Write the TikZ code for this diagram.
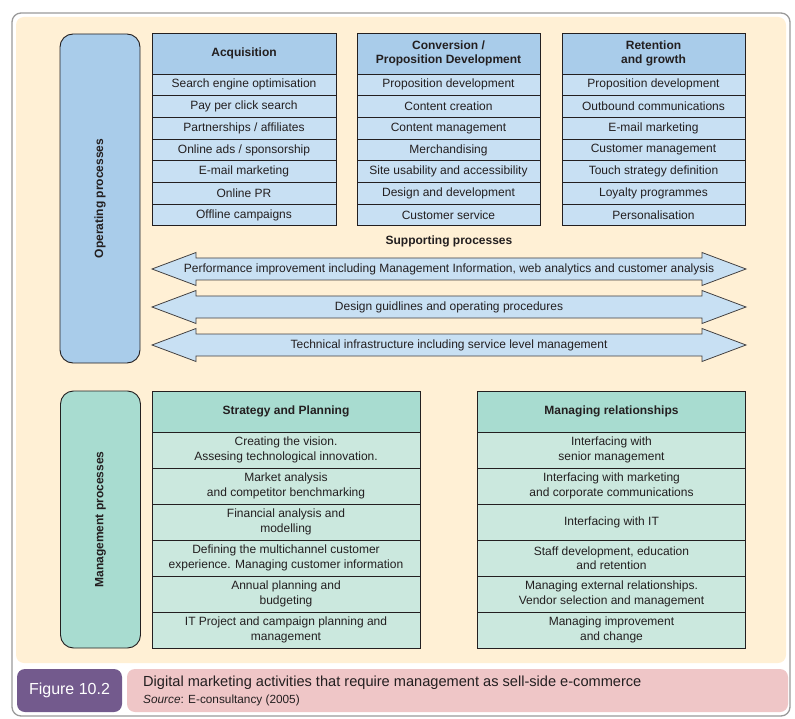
\documentclass[tikz,border=0pt]{standalone}
\usepackage{fontspec}
\setmainfont{Liberation Sans}
\definecolor{cream}{HTML}{FFF0D5}
\definecolor{blueHead}{HTML}{A9CCEA}
\definecolor{blueRow}{HTML}{C8E0F3}
\definecolor{greenHead}{HTML}{A8DCD0}
\definecolor{greenRow}{HTML}{CBE8DE}
\definecolor{pinkC}{HTML}{EFC6C7}
\definecolor{purpleC}{HTML}{735A8D}
\definecolor{txt}{HTML}{231F20}
\definecolor{edge}{HTML}{231F20}
\definecolor{frame}{HTML}{9A9A9A}
\begin{document}
\begin{tikzpicture}[x=1pt,y=-1pt,
  every node/.style={font=\fontsize{12}{14.5}\selectfont, text=txt},
  cellbase/.style={draw=edge, line width=0.9pt, inner sep=0pt, outer sep=0pt, align=center},
  bluerow/.style={cellbase, fill=blueRow, minimum width=183pt, minimum height=21.7pt},
  bluehead/.style={cellbase, fill=blueHead, minimum width=183pt, minimum height=41pt, font=\bfseries\fontsize{12}{13.5}\selectfont},
  greenrow/.style={cellbase, fill=greenRow, minimum width=268pt, minimum height=36pt},
  greenhead/.style={cellbase, fill=greenHead, minimum width=268pt, minimum height=41pt, font=\bfseries\fontsize{12}{13.5}\selectfont},
  sidebox/.style={draw=edge, line width=0.9pt, rounded corners=13pt, minimum width=80pt, inner sep=0pt},
  sidelabel/.style={rotate=90, font=\bfseries\fontsize{12}{13.5}\selectfont},
  arrowshape/.style={draw=edge!85, line width=0.8pt, fill=blueRow}
]
\useasboundingbox (0,0) rectangle (795,719);
% outer frame and background
\draw[frame, line width=1.3pt, fill=white, rounded corners=9pt] (12,13) rectangle (790,716);
\fill[cream, rounded corners=8pt] (16,17) rectangle (786,663);

% side boxes
\node[sidebox, fill=blueHead, minimum height=329pt] (op) at (100,198.5) {};
\node[sidelabel] (opl) at (op.center) {Operating processes};
\node[sidebox, fill=greenHead, minimum height=257pt] (mg) at (100.5,519.5) {};
\node[sidelabel] (mgl) at (mg.center) {Management processes};

% operating tables
\node[bluehead, minimum width=184pt] (acqh) at (244,53.5) {Acquisition};
\foreach \t [count=\i from 0] in {Search engine optimisation, Pay per click search, Partnerships / affiliates, Online ads / sponsorship, E-mail marketing, Online PR, Offline campaigns}
  \node[bluerow, minimum width=184pt] (acq\i) at (244,{74+21.7*(\i+0.5)}) {\t};

\node[bluehead] (convh) at (448.5,53.5) {Conversion /\\Proposition Development};
\foreach \t [count=\i from 0] in {Proposition development, Content creation, Content management, Merchandising, Site usability and accessibility, Design and development, Customer service}
  \node[bluerow] (conv\i) at (448.5,{74+21.7*(\i+0.5)}) {\t};

\node[bluehead] (reth) at (653.5,53.5) {Retention\\and growth};
\foreach \t [count=\i from 0] in {Proposition development, Outbound communications, E-mail marketing, Customer management, Touch strategy definition, Loyalty programmes, Personalisation}
  \node[bluerow] (ret\i) at (653.5,{74+21.7*(\i+0.5)}) {\t};

% supporting processes
\node[font=\bfseries\fontsize{12}{13.5}\selectfont] (sup) at (449,241.5) {Supporting processes};
\foreach \c/\t [count=\i] in {269/{Performance improvement including Management Information, web analytics and customer analysis}, 307/{Design guidlines and operating procedures}, 345/{Technical infrastructure including service level management}}{
  \draw[arrowshape] (152,\c) -- (196,{\c-16.5}) -- (196,{\c-11}) -- (702,{\c-11}) -- (702,{\c-16.5}) -- (746,\c) -- (702,{\c+16.5}) -- (702,{\c+11}) -- (196,{\c+11}) -- (196,{\c+16.5}) -- cycle;
  \node (arr\i) at (449,\c) {\t};
}

% management tables
\node[greenhead] (sph) at (286,411.5) {Strategy and Planning};
\foreach \t [count=\i from 0] in {{Creating the vision.\\Assesing technological innovation.}, {Market analysis\\and competitor benchmarking}, {Financial analysis and\\modelling}, {Defining the multichannel customer\\experience. Managing customer information}, {Annual planning and\\budgeting}, {IT Project and campaign planning and\\management}}
  \node[greenrow] (sp\i) at (286,{432+36*(\i+0.5)}) {\t};

\node[greenhead] (mrh) at (611.5,411.5) {Managing relationships};
\foreach \t [count=\i from 0] in {{Interfacing with\\senior management}, {Interfacing with marketing\\and corporate communications}, {Interfacing with IT}, {Staff development, education\\and retention}, {Managing external relationships.\\Vendor selection and management}, {Managing improvement\\and change}}
  \node[greenrow] (mr\i) at (611.5,{432+36*(\i+0.5)}) {\t};

% caption
\node[fill=purpleC, rounded corners=8pt, minimum width=105pt, minimum height=43pt, inner sep=0pt, text=white, font=\fontsize{16}{18}\selectfont] (fig) at (69.5,690.5) {Figure 10.2};
\node[fill=pinkC, rounded corners=8pt, minimum width=661pt, minimum height=43pt, inner sep=0pt] (cap) at (457.5,690.5) {};
\node[anchor=west, inner sep=0pt, font=\fontsize{14.6}{17}\selectfont] (capt) at (143,683) {Digital marketing activities that require management as sell-side e-commerce};
\node[anchor=west, inner sep=0pt, font=\fontsize{11.8}{13}\selectfont] (src) at (143,700) {\textit{Source}: E-consultancy (2005)};
\end{tikzpicture}
\end{document}
